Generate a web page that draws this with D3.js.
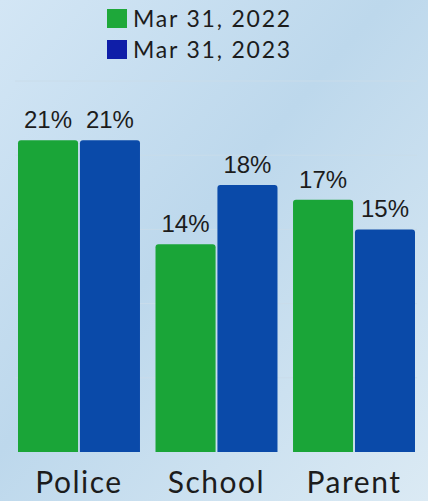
<!DOCTYPE html>
<html>
<head>
<meta charset="utf-8">
<script src="https://cdn.jsdelivr.net/npm/d3@7"></script>
<style>
  html, body { margin: 0; padding: 0; }
  body { width: 428px; height: 501px; overflow: hidden; }
  text { font-family: Lato, "Open Sans", sans-serif; fill: #1c1c1c; }
</style>
</head>
<body>
<div id="chart"></div>
<script>
// chart data
var categories = ["Police", "School", "Parent"];
var seriesNames = ["Mar 31, 2022", "Mar 31, 2023"];
var values2022 = [21, 14, 17];
var values2023 = [21, 18, 15];
var gridTicks = [0, 5, 10, 15, 20, 25];

var width = 428, height = 501;
var colors = ["#1aa538", "#0a4aa9"];
var legendColors = ["#1ea83a", "#0f1ea8"];

var svg = d3.select("#chart").append("svg")
  .attr("width", width)
  .attr("height", height);

// background gradient
var defs = svg.append("defs");
var grad = defs.append("linearGradient")
  .attr("id", "bg")
  .attr("x1", "0").attr("y1", "0")
  .attr("x2", "1").attr("y2", "1");
grad.append("stop").attr("offset", "0%").attr("stop-color", "#d3e6f5");
grad.append("stop").attr("offset", "45%").attr("stop-color", "#bdd8ec");
grad.append("stop").attr("offset", "100%").attr("stop-color", "#dbeaf4");
svg.append("rect")
  .attr("width", width)
  .attr("height", height)
  .attr("fill", "url(#bg)");

var x0 = d3.scaleBand()
  .domain(categories)
  .range([18, 415])
  .paddingInner(0.113);

var x1 = d3.scaleBand()
  .domain([0, 1])
  .range([0, x0.bandwidth()])
  .paddingInner(0.03);

var y = d3.scaleLinear()
  .domain([0, 25])
  .range([452, 81]);

// faint grid lines
svg.append("g")
  .selectAll("line")
  .data(gridTicks.slice(1))
  .join("line")
  .attr("x1", 15)
  .attr("x2", 417)
  .attr("y1", function(d) { return y(d); })
  .attr("y2", function(d) { return y(d); })
  .attr("stroke", "#c9dcea")
  .attr("stroke-width", 1);

// build rows for bars
var rows = [];
for (var i = 0; i < categories.length; i++) {
  rows.push({cat: categories[i], s: 0, v: values2022[i]});
  rows.push({cat: categories[i], s: 1, v: values2023[i]});
}

// bars with slightly rounded top corners
function barPath(d) {
  var bx = x0(d.cat) + x1(d.s);
  var bw = x1.bandwidth();
  var top = y(d.v), bot = y(0), r = 3;
  return "M" + bx + "," + bot +
    "V" + (top + r) +
    "Q" + bx + "," + top + " " + (bx + r) + "," + top +
    "H" + (bx + bw - r) +
    "Q" + (bx + bw) + "," + top + " " + (bx + bw) + "," + (top + r) +
    "V" + bot + "Z";
}

svg.append("g")
  .selectAll("path")
  .data(rows)
  .join("path")
  .attr("d", barPath)
  .attr("fill", function(d) { return colors[d.s]; });

// value labels
svg.append("g")
  .selectAll("text")
  .data(rows)
  .join("text")
  .attr("x", function(d) { return x0(d.cat) + x1(d.s) + x1.bandwidth() / 2; })
  .attr("y", function(d) { return y(d.v) - 12; })
  .attr("text-anchor", "middle")
  .style("font-family", "'Liberation Sans', Arial, sans-serif")
  .style("font-size", "24px")
  .text(function(d) { return d.v + "%"; });

// category labels
svg.append("g")
  .selectAll("text")
  .data(categories)
  .join("text")
  .attr("x", function(d) { return x0(d) + x0.bandwidth() / 2; })
  .attr("y", 493)
  .attr("text-anchor", "middle")
  .style("font-size", "30px")
  .style("letter-spacing", "1.5px")
  .text(function(d) { return d; });

// legend
var legend = svg.append("g")
  .selectAll("g")
  .data(seriesNames)
  .join("g")
  .attr("transform", function(d, i) { return "translate(107," + (9 + i * 31) + ")"; });
legend.append("rect")
  .attr("width", 20)
  .attr("height", 19)
  .attr("fill", function(d, i) { return legendColors[i]; });
legend.append("text")
  .attr("x", 26)
  .attr("y", 18)
  .style("font-size", "23px")
  .style("letter-spacing", "1.8px")
  .text(function(d) { return d; });
</script>
</body>
</html>
